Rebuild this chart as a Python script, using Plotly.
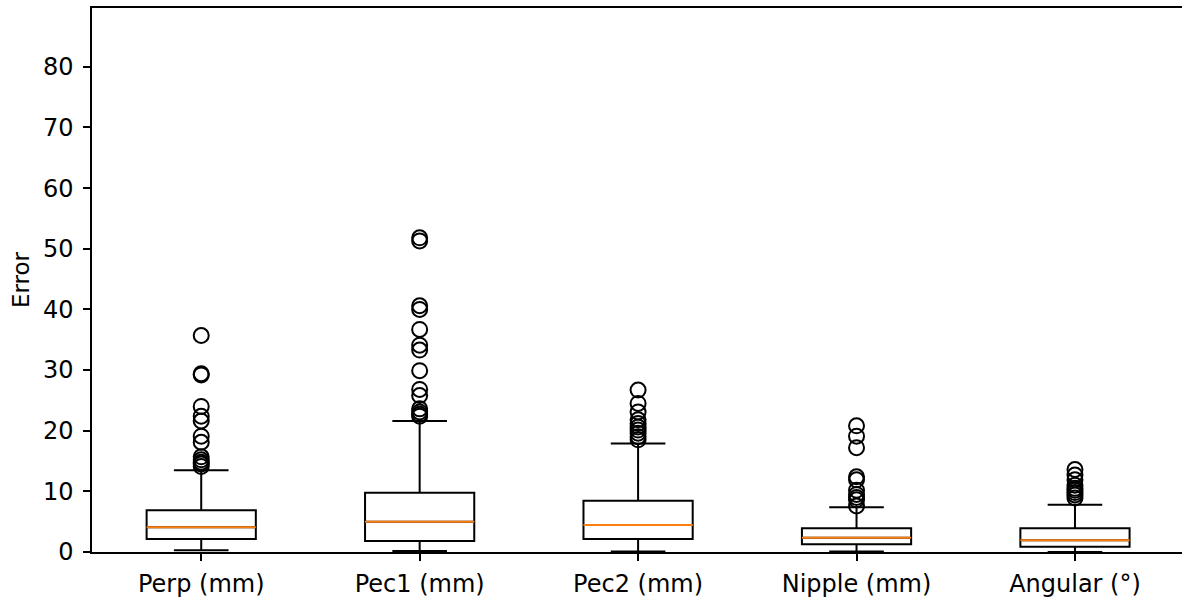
import plotly.graph_objects as go

# Error distributions per measurement (box statistics + outliers)
categories = ["Perp (mm)", "Pec1 (mm)", "Pec2 (mm)", "Nipple (mm)", "Angular (°)"]
positions = [1, 2, 3, 4, 5]

q1 = [2.14, 1.81, 2.14, 1.26, 0.88]
median = [4.07, 5.00, 4.45, 2.36, 1.92]
q3 = [6.88, 9.79, 8.47, 3.90, 3.90]
lower_whisker = [0.30, 0.17, 0.08, 0.10, 0.02]
upper_whisker = [13.48, 21.6, 17.9, 7.37, 7.80]

perp_outliers = [35.7, 29.4, 29.2, 24.0, 22.4, 21.6, 19.1, 18.1, 15.7, 15.2, 14.8, 14.5, 14.1]
pec1_outliers = [51.8, 51.3, 40.6, 40.0, 36.7, 34.1, 33.3, 29.9, 26.8, 25.8, 23.6, 23.1, 22.7, 22.4]
pec2_outliers = [26.7, 24.5, 23.1, 21.8, 21.2, 20.6, 20.1, 19.6, 19.0, 18.5]
nipple_outliers = [20.8, 19.1, 17.2, 12.4, 11.9, 10.2, 9.5, 9.0, 8.6, 7.6]
angular_outliers = [13.6, 12.7, 11.9, 11.0, 10.5, 10.2, 9.8, 9.4, 8.9]
outliers = [perp_outliers, pec1_outliers, pec2_outliers, nipple_outliers, angular_outliers]

BOX_WIDTH = 0.5
FONT = "DejaVu Sans"

fig = go.Figure()

for i, pos in enumerate(positions):
    fig.add_trace(go.Box(
        x=[pos],
        q1=[q1[i]], median=[median[i]], q3=[q3[i]],
        lowerfence=[lower_whisker[i]], upperfence=[upper_whisker[i]],
        width=BOX_WIDTH, whiskerwidth=0.5,
        fillcolor="rgba(0,0,0,0)",
        line=dict(color="black", width=2),
        boxpoints=False, hoverinfo="skip", showlegend=False,
    ))
    # orange median line on top of the box
    fig.add_trace(go.Scatter(
        x=[pos - BOX_WIDTH / 2, pos + BOX_WIDTH / 2],
        y=[median[i], median[i]],
        mode="lines", line=dict(color="#ff7f0e", width=2),
        hoverinfo="skip", showlegend=False,
    ))
    # fliers
    fig.add_trace(go.Scatter(
        x=[pos] * len(outliers[i]), y=outliers[i],
        mode="markers",
        marker=dict(symbol="circle-open", size=15, color="black",
                    line=dict(color="black", width=2)),
        hoverinfo="skip", showlegend=False, cliponaxis=False,
    ))

fig.update_layout(
    width=1182, height=601,
    margin=dict(l=92, r=0, t=8, b=49),
    plot_bgcolor="white", paper_bgcolor="white",
    font=dict(family=FONT, size=24, color="black"),
    xaxis=dict(
        range=[0.5, 5.49], tickvals=positions, ticktext=categories,
        showgrid=False, zeroline=False,
        showline=True, linecolor="black", linewidth=1.5, mirror=True,
        ticks="outside", ticklen=7, tickwidth=1.5, tickcolor="black",
        tickfont=dict(family=FONT, size=24, color="black"),
        ticklabelstandoff=2,
    ),
    yaxis=dict(
        range=[0, 89.7], tickvals=[0, 10, 20, 30, 40, 50, 60, 70, 80],
        showgrid=False, zeroline=False,
        showline=True, linecolor="black", linewidth=1.5,
        ticks="outside", ticklen=7, tickwidth=1.5, tickcolor="black",
        tickfont=dict(family=FONT, size=24, color="black"),
        ticklabelstandoff=5,
        title=dict(text="Error", font=dict(family=FONT, size=23, color="black"), standoff=7),
    ),
)

fig.write_html("out.html")
